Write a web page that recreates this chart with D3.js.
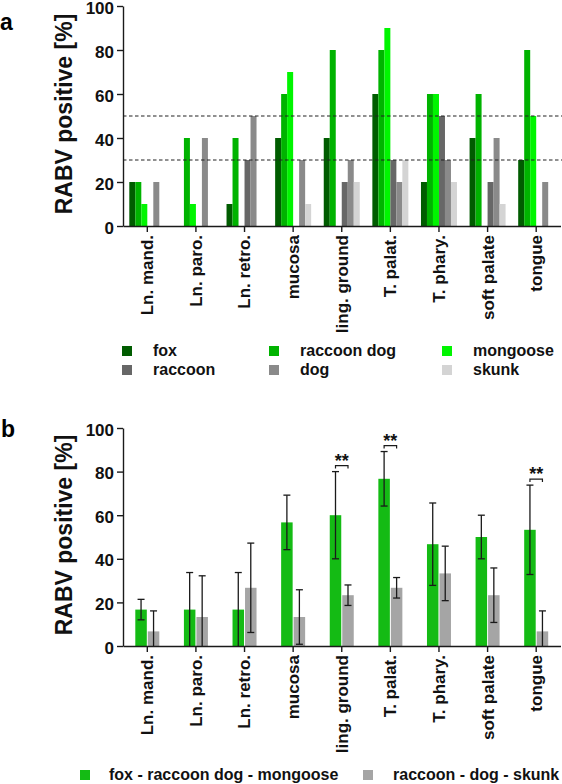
<!DOCTYPE html>
<html><head><meta charset="utf-8">
<script src="https://cdn.jsdelivr.net/npm/d3@7"></script>
<style>
body{margin:0;background:#fff;}
svg{display:block;font-family:"Liberation Sans",Arial,sans-serif;font-weight:bold;}
</style></head>
<body><svg id="c" width="562" height="784"></svg>
<script>
const categories = ["Ln. mand.","Ln. paro.","Ln. retro.","mucosa","ling. ground","T. palat.","T. phary.","soft palate","tongue"];
const seriesNames = ["fox","raccoon dog","mongoose","raccoon","dog","skunk"];
const seriesColors = ["#005c00","#00b300","#00f500","#676767","#8a8a8a","#d4d4d4"];
const fox        = [20, 0,10,40,40,60,20,40,30];
const raccoonDog = [20,40,40,60,80,80,60,60,80];
const mongoose   = [10,10, 0,70, 0,90,60, 0,50];
const raccoon    = [ 0, 0,30, 0,20,30,50,20, 0];
const dog        = [20,40,50,30,30,20,30,40,20];
const skunk      = [ 0, 0, 0,10,20,30,20,10, 0];
const thresholds = [30,50];
const yTicks = [0,20,40,60,80,100];

const groupNames = ["fox - raccoon dog - mongoose","raccoon - dog - skunk"];
const groupColors = ["#14bb14","#a5a5a5"];
const greenMean = [16.7,16.7,16.7,56.7,60,76.7,46.7,50,53.3];
const greenSD   = [4.7,17,17,12.5,20,12.5,18.9,10,20.5];
const greyMean  = [6.7,13.3,26.7,13.3,23.3,26.7,33.3,23.3,6.7];
const greySD    = [9.4,18.9,20.5,12.5,4.7,4.7,12.5,12.5,9.4];
const significant = ["ling. ground","T. palat.","tongue"];
const sigLabel = "**";

const svg = d3.select("#c");
const seriesData = [fox,raccoonDog,mongoose,raccoon,dog,skunk];

const x = d3.scaleBand().domain(categories).range([123,560.5]).padding(0);

function styleAxis(g){
  g.selectAll("path,line").attr("stroke","#1a1a1a").attr("stroke-width",1.4);
  g.selectAll("text").attr("fill","#111").style("font-size","17px").style("font-weight","bold");
}

function drawAxes(y, y0){
  const ya = svg.append("g").attr("transform","translate(123,0)")
    .call(d3.axisLeft(y).tickValues(yTicks).tickSize(6).tickSizeOuter(0).tickPadding(3));
  styleAxis(ya);
  ya.selectAll("text").attr("dy","0.42em");
  const xa = svg.append("g").attr("transform",`translate(0,${y0})`)
    .call(d3.axisBottom(x).tickSize(6).tickSizeOuter(0));
  styleAxis(xa);
  xa.selectAll("text").attr("transform","rotate(-90)").attr("text-anchor","end")
    .attr("x",-9).attr("y",0).attr("dy","0.35em");
}

function yTitle(y){
  const [a,b] = y.range();
  svg.append("text").attr("transform",`translate(72,${(a+b)/2 - 2}) rotate(-90)`)
    .attr("text-anchor","middle").style("font-size","23px").attr("fill","#111")
    .text("RABV positive [%]");
}

// ---------- Panel a ----------
const ya = d3.scaleLinear().domain([0,100]).range([226,6]);
const xin = d3.scaleBand().domain(seriesNames).range([-18,18]).padding(0);
svg.append("text").attr("x",0).attr("y",30).style("font-size","23px").text("a");

seriesNames.forEach((s,si)=>{
  svg.append("g").selectAll("rect").data(categories).join("rect")
    .attr("x",(c)=>x(c)+x.bandwidth()/2+xin(s))
    .attr("width",xin.bandwidth())
    .attr("y",(c,i)=>ya(seriesData[si][i]))
    .attr("height",(c,i)=>ya(0)-ya(seriesData[si][i]))
    .attr("fill",seriesColors[si]);
});
svg.append("g").selectAll("line").data(thresholds).join("line")
  .attr("x1",123).attr("x2",562).attr("y1",d=>ya(d)).attr("y2",d=>ya(d))
  .attr("stroke","#222").attr("stroke-width",1.1).attr("stroke-dasharray","3.5,2.5");
drawAxes(ya,226);
yTitle(ya);

// legend a
const legCols = [[122,153],[269,300],[442,473]];
const legRows = [346,365];
seriesNames.forEach((s,i)=>{
  const col = legCols[i%3], row = legRows[Math.floor(i/3)];
  svg.append("rect").attr("x",col[0]).attr("y",row).attr("width",10).attr("height",10).attr("fill",seriesColors[i]);
  svg.append("text").attr("x",col[1]).attr("y",row+10).style("font-size","16px").attr("fill","#111").text(s);
});

// ---------- Panel b ----------
const yb = d3.scaleLinear().domain([0,100]).range([646,428]);
svg.append("text").attr("x",1).attr("y",437).style("font-size","23px").text("b");
const bw = 11.5;
const gb = [{m:greenMean,s:greenSD,off:-12,col:groupColors[0]},{m:greyMean,s:greySD,off:0.5,col:groupColors[1]}];
gb.forEach(G=>{
  const g = svg.append("g");
  g.selectAll("rect").data(categories).join("rect")
    .attr("x",c=>x(c)+x.bandwidth()/2+G.off).attr("width",bw)
    .attr("y",(c,i)=>yb(G.m[i])).attr("height",(c,i)=>yb(0)-yb(G.m[i]))
    .attr("fill",G.col);
});
gb.forEach(G=>{
  const g = svg.append("g").attr("stroke","#1a1a1a").attr("stroke-width",1.3);
  categories.forEach((c,i)=>{
    const cx = x(c)+x.bandwidth()/2+G.off+bw/2;
    const hi = yb(G.m[i]+G.s[i]), lo = yb(Math.max(0,G.m[i]-G.s[i]));
    g.append("line").attr("x1",cx).attr("x2",cx).attr("y1",hi).attr("y2",lo);
    g.append("line").attr("x1",cx-3.5).attr("x2",cx+3.5).attr("y1",hi).attr("y2",hi);
    if (G.m[i]-G.s[i] > 0.5) g.append("line").attr("x1",cx-3.5).attr("x2",cx+3.5).attr("y1",lo).attr("y2",lo);
  });
});
// significance brackets
significant.forEach(c=>{
  const i = categories.indexOf(c);
  const x1 = x(c)+x.bandwidth()/2+gb[0].off+bw/2, x2 = x(c)+x.bandwidth()/2+gb[1].off+bw/2;
  const top = Math.min(yb(greenMean[i]+greenSD[i]), yb(greyMean[i]+greySD[i]));
  const by = top-6;
  svg.append("path").attr("d",`M${x1},${by+3}V${by}H${x2}V${by+3}`)
    .attr("fill","none").attr("stroke","#1a1a1a").attr("stroke-width",1.2);
  svg.append("text").attr("x",(x1+x2)/2).attr("y",by+1).attr("text-anchor","middle")
    .style("font-size","18px").attr("fill","#111").text(sigLabel);
});
drawAxes(yb,646);
yTitle(yb);

// legend b
const legB = [[80,109],[363,393]];
groupNames.forEach((n,i)=>{
  svg.append("rect").attr("x",legB[i][0]).attr("y",770).attr("width",10).attr("height",10).attr("fill",groupColors[i]);
  svg.append("text").attr("x",legB[i][1]).attr("y",780).style("font-size","16px").attr("fill","#111").text(n);
});
</script></body></html>
